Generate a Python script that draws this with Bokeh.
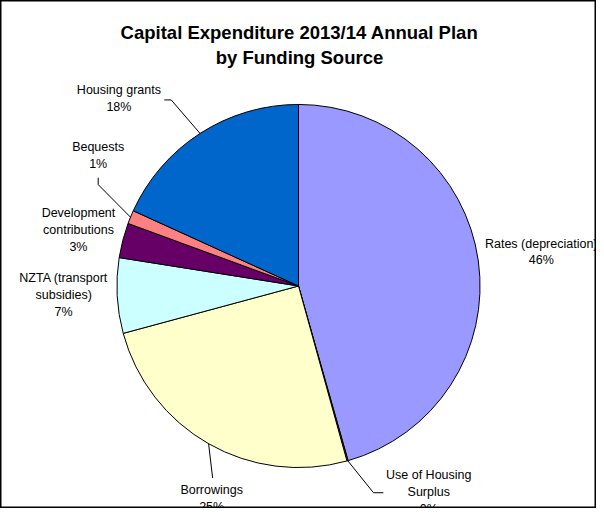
import numpy as np
from bokeh.plotting import figure
from bokeh.models import Range1d, ColumnDataSource
from bokeh.embed import file_html
from bokeh.resources import INLINE
from bokeh.core.properties import value

# ---------------- data ----------------
title_lines = ["Capital Expenditure 2013/14 Annual Plan", "by Funding Source"]
categories = ["Rates (depreciation)", "Use of Housing Surplus", "Borrowings",
              "NZTA (transport subsidies)", "Development contributions",
              "Bequests", "Housing grants"]
label_lines = [["Rates (depreciation)"], ["Use of Housing", "Surplus"], ["Borrowings"],
               ["NZTA (transport", "subsidies)"], ["Development", "contributions"],
               ["Bequests"], ["Housing grants"]]
shares = [45.6, 0.1, 25.1, 6.7, 3.1, 1.2, 18.2]
colors = ["#9999FF", "#993366", "#FFFFCC", "#CCFFFF", "#660066", "#FF8080", "#0066CC"]

# ---------------- layout ----------------
W, H = 596, 508
REF_W, REF_H = 604, 516
FONT = value("Liberation Sans")
CX, CY, R = 302, 290, 184           # pie centre / radius (reference px)
label_pos = [(548, 247), (434, 482), (214, 497), (64, 282), (79, 216), (99, 149), (120, 91)]
line_h = 17
# leader-line start points (reference px) per slice, None = no leader
leader_start = [None, [(388, 500), (378, 500)], [(215, 485)], None, None,
                [(99, 180), (99, 187)], [(166, 101), (173, 101)]]


def dy(py):
    return REF_H - py


p = figure(width=W, height=H, output_backend="svg", toolbar_location=None,
           x_range=Range1d(0, REF_W), y_range=Range1d(0, REF_H), min_border=0,
           background_fill_color="white", border_fill_color="white")
p.axis.visible = False
p.grid.visible = False
p.outline_line_color = "black"
p.outline_line_width = 2

vals = np.array(shares, dtype=float)
frac = vals / vals.sum()
cum = np.concatenate([[0], np.cumsum(frac)])
b0 = cum[:-1] * 2 * np.pi
b1 = cum[1:] * 2 * np.pi
start = np.pi / 2 - b0
end = np.pi / 2 - b1
src = ColumnDataSource(dict(x=[CX] * len(vals), y=[dy(CY)] * len(vals),
                            s=start, e=end, c=colors, name=categories))
p.wedge(x="x", y="y", radius=R, start_angle="s", end_angle="e", direction="clock",
        fill_color="c", line_color="black", line_width=1, source=src)

# leaders
xs, ys = [], []
for i, ls in enumerate(leader_start):
    if ls is None:
        continue
    mid = np.pi / 2 - (b0[i] + b1[i]) / 2
    ex = CX + R * np.cos(mid)
    ey = dy(CY) + R * np.sin(mid)
    xs.append([q[0] for q in ls] + [ex])
    ys.append([dy(q[1]) for q in ls] + [ey])
p.multi_line(xs=xs, ys=ys, line_color="black", line_width=1)

# labels
tx, ty, tt = [], [], []
for i, lines in enumerate(label_lines):
    pct = f"{round(frac[i] * 100):.0f}%"
    allines = lines + [pct]
    x0, y0 = label_pos[i]
    for k, t in enumerate(allines):
        tx.append(x0)
        ty.append(dy(y0 + k * line_h))
        tt.append(t)
p.text(x=tx, y=ty, text=tt, text_font=FONT, text_font_size="12.5px",
       text_align="center", text_baseline="middle", text_color="black")

# title
p.text(x=[303, 303], y=[dy(33), dy(58)], text=title_lines, text_font=FONT,
       text_font_size="18.5px", text_font_style="bold", text_align="center",
       text_baseline="middle", text_color="black")

open("out.html", "w").write(file_html(p, INLINE))
